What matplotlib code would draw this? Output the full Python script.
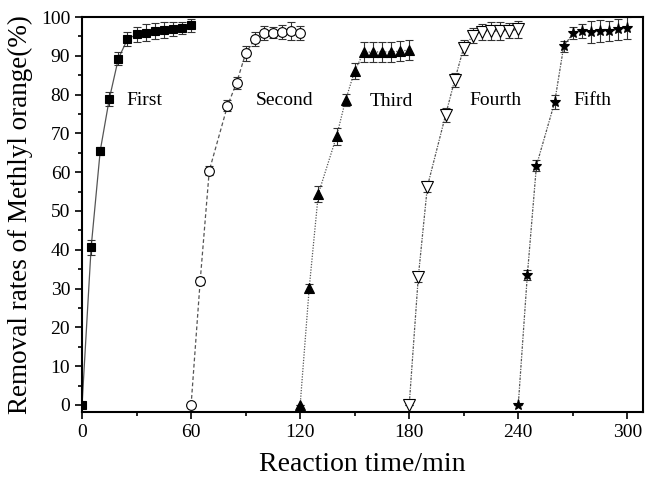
import matplotlib
matplotlib.use("Agg")
import matplotlib.pyplot as plt
from matplotlib.ticker import MultipleLocator

plt.rcParams['font.family'] = ['Liberation Serif', 'DejaVu Serif']

t1 = [0, 5, 10, 15, 20, 25, 30, 35, 40, 45, 50, 55, 60]
y1 = [0, 40.6, 65.5, 78.9, 89.3, 94.3, 95.5, 96.0, 96.4, 96.6, 96.9, 97.2, 97.9]
e1 = [0, 1.9, 1.1, 1.8, 1.6, 1.9, 1.9, 2.1, 2.1, 2.0, 1.7, 1.5, 1.7]

t2 = [60, 65, 70, 80, 85, 90, 95, 100, 105, 110, 115, 120]
y2 = [0, 32.0, 60.4, 77.1, 83.0, 90.6, 94.3, 96.0, 96.0, 96.1, 96.4, 96.0]
e2 = [0, 1.0, 1.2, 1.4, 1.6, 2.0, 1.8, 1.8, 1.5, 1.8, 2.2, 1.8]

t3 = [120, 125, 130, 140, 145, 150, 155, 160, 165, 170, 175, 180]
y3 = [0, 30.2, 54.4, 69.2, 78.6, 86.1, 90.9, 91.0, 91.0, 91.0, 91.2, 91.5]
e3 = [0, 1.0, 2.0, 2.2, 1.5, 2.0, 2.6, 2.6, 2.6, 2.6, 2.6, 2.6]

t4 = [180, 185, 190, 200, 205, 210, 215, 220, 225, 230, 235, 240]
y4 = [0, 33.0, 56.3, 74.7, 83.7, 92.1, 95.2, 96.2, 96.4, 96.4, 96.5, 96.8]
e4 = [0, 1.2, 1.5, 1.8, 1.8, 2.0, 2.0, 2.0, 2.2, 2.2, 2.0, 2.2]

t5 = [240, 245, 250, 260, 265, 270, 275, 280, 285, 290, 295, 300]
y5 = [0, 33.5, 61.7, 78.0, 92.4, 95.8, 96.4, 96.1, 96.4, 96.4, 96.8, 97.2]
e5 = [0, 1.2, 1.5, 1.8, 1.5, 1.5, 1.8, 2.8, 2.8, 2.5, 2.8, 2.8]

labels = ["First", "Second", "Third", "Fourth", "Fifth"]
label_x = [24.5, 95.5, 158, 213, 270.5]
label_y = [78.4, 78.4, 78.2, 78.6, 78.4]

fig = plt.figure(figsize=(6.46, 4.79), dpi=100)
ax = fig.add_axes([0.127, 0.140, 0.868, 0.8245])

series = [
    (t1, y1, e1, 's', 'black', '-', 6),
    (t2, y2, e2, 'o', 'white', (0, (3, 2)), 7),
    (t3, y3, e3, '^', 'black', (0, (1, 1.2)), 7),
    (t4, y4, e4, 'v', 'white', (0, (2, 1, 1, 1)), 8),
    (t5, y5, e5, '*', 'black', (0, (2, 1, 1, 1)), 8),
]
for t, y, e, m, fc, ls, ms in series:
    ax.errorbar(t, y, yerr=e, fmt='none', ecolor='#333333', elinewidth=0.8,
                capsize=3, capthick=0.8, zorder=2)
    ax.plot(t, y, color='#555555', linestyle=ls, linewidth=0.9, zorder=1)
    ax.plot(t, y, linestyle='none', marker=m, markersize=ms, markerfacecolor=fc,
            markeredgecolor='black', markeredgewidth=0.8, zorder=3)

for lab, x, y in zip(labels, label_x, label_y):
    ax.text(x, y, lab, fontsize=14, ha='left', va='center')

ax.set_xlim(0, 308.5)
ax.set_ylim(-1.8, 100)
ax.xaxis.set_major_locator(MultipleLocator(60))
ax.xaxis.set_minor_locator(MultipleLocator(30))
ax.yaxis.set_major_locator(MultipleLocator(10))
ax.yaxis.set_minor_locator(MultipleLocator(5))
ax.tick_params(which='both', direction='out', width=1.2, labelsize=14)
ax.tick_params(which='major', length=5)
ax.tick_params(which='minor', length=3)
for s in ax.spines.values():
    s.set_linewidth(1.5)

ax.set_xlabel("Reaction time/min", fontsize=20, labelpad=8)
ax.set_ylabel("Removal rates of Methlyl orange(%)", fontsize=19.5, labelpad=6)

fig.savefig("out.png", dpi=100)
